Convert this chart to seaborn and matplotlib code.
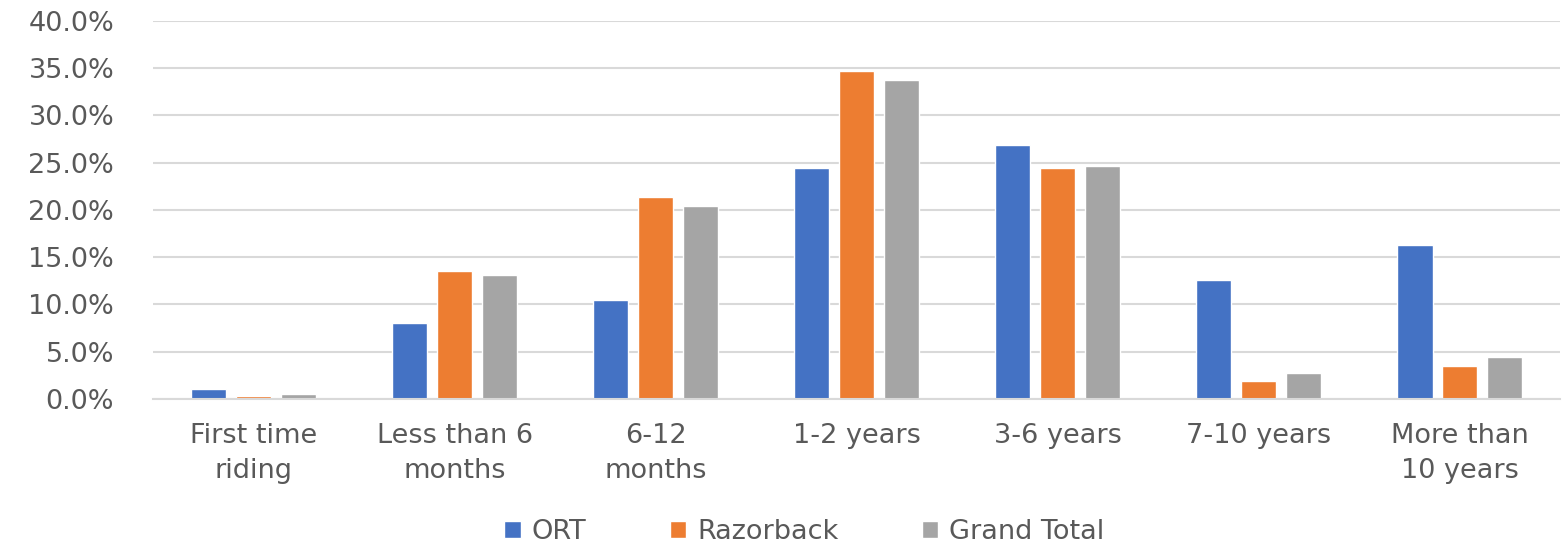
import matplotlib
matplotlib.use("Agg")
import matplotlib.pyplot as plt
import pandas as pd
import seaborn as sns
from matplotlib.ticker import FuncFormatter
from matplotlib.patches import Patch

# %%
categories = [
    "First time\nriding",
    "Less than 6\nmonths",
    "6-12\nmonths",
    "1-2 years",
    "3-6 years",
    "7-10 years",
    "More than\n10 years",
]
series = ["ORT", "Razorback", "Grand Total"]
ort = [1.1, 8.0, 10.5, 24.4, 26.9, 12.6, 16.3]
razorback = [0.3, 13.5, 21.4, 34.7, 24.4, 1.9, 3.5]
grand_total = [0.5, 13.1, 20.4, 33.7, 24.6, 2.7, 4.4]
colors = ["#4472C4", "#ED7D31", "#A5A5A5"]

# %%
df = pd.DataFrame({
    "category": categories * 3,
    "series": [s for s in series for _ in categories],
    "value": ort + razorback + grand_total,
})

sns.set_style("white")
plt.rcParams["font.family"] = ["DejaVu Sans"]
text_color = "#595959"
fs = 19.5

fig = plt.figure(figsize=(15.62, 5.45), dpi=100)
ax = fig.add_axes([0.098, 0.268, 0.901, 0.694])

sns.barplot(
    df,
    x="category",
    y="value",
    hue="series",
    order=categories,
    hue_order=series,
    palette=colors,
    saturation=1,
    width=0.67,
    gap=0.22,
    ax=ax,
    legend=False,
)

ax.set_ylim(0, 40)
ax.set_xlim(-0.5, len(categories) - 0.5)
ax.set_yticks(range(0, 41, 5))
ax.yaxis.set_major_formatter(FuncFormatter(lambda v, _: f"{v:.1f}%"))
ax.grid(axis="y", color="#d9d9d9", linewidth=1.5)
ax.set_axisbelow(True)
for side in ["top", "right", "left"]:
    ax.spines[side].set_visible(False)
ax.spines["bottom"].set_color("#d9d9d9")
ax.spines["bottom"].set_linewidth(1.5)
ax.tick_params(axis="both", length=0, labelsize=fs, colors=text_color)
ax.tick_params(axis="x", pad=17)
ax.tick_params(axis="y", pad=28)
for lbl in ax.get_xticklabels():
    lbl.set_linespacing(1.45)
ax.set_xlabel("")
ax.set_ylabel("")

handles = [Patch(facecolor=c, label=s) for c, s in zip(colors, series)]
fig.legend(
    handles=handles,
    loc="lower center",
    bbox_to_anchor=(0.515, -0.045),
    ncol=3,
    frameon=False,
    fontsize=fs,
    labelcolor=text_color,
    handlelength=0.6,
    handleheight=0.6,
    handletextpad=0.4,
    columnspacing=3.1,
)

plt.savefig("out.png", dpi=100)
